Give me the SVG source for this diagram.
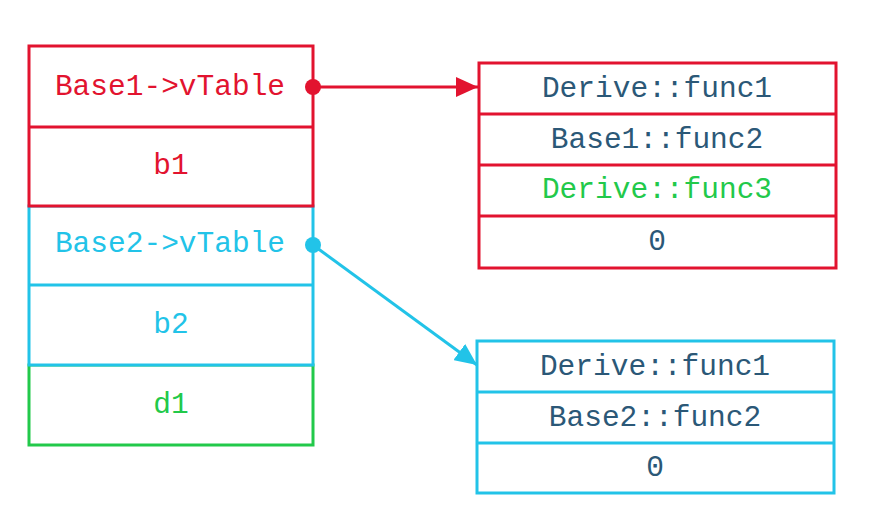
<svg xmlns="http://www.w3.org/2000/svg" width="871" height="527" viewBox="0 0 871 527">
<defs>
<style>
.t{font-family:"Liberation Mono","DejaVu Sans Mono",monospace;font-size:29.5px;text-anchor:middle;dominant-baseline:central}
.red{stroke:#e2132f}
.cyan{stroke:#22c3e8}
.green{stroke:#22c94a}
.box{fill:#fff;stroke-width:3}
.ln{stroke-width:3;fill:none}
</style>
<marker id="ahR" markerWidth="22" markerHeight="20" refX="22" refY="10" orient="auto" markerUnits="userSpaceOnUse" viewBox="0 0 22 20"><path d="M0,0 L22,10 L0,20 z" fill="#e2132f"/></marker>
<marker id="ahC" markerWidth="22" markerHeight="20" refX="22" refY="10" orient="auto" markerUnits="userSpaceOnUse" viewBox="0 0 22 20"><path d="M0,0 L22,10 L0,20 z" fill="#22c3e8"/></marker>
</defs>
<rect width="871" height="527" fill="#fff"/>
<g id="d1">
<rect class="box green" x="29" y="365" width="284" height="80"/>
<text class="t" x="171" y="405" fill="#22c94a">d1</text>
</g>
<g id="base2">
<rect class="box cyan" x="29" y="206" width="284" height="159"/>
<line class="ln cyan" x1="29" y1="285" x2="313" y2="285"/>
<text class="t" x="170" y="244" fill="#22c3e8">Base2-&gt;vTable</text>
<text class="t" x="171" y="325" fill="#22c3e8">b2</text>
</g>
<g id="base1">
<rect class="box red" x="29" y="46" width="284" height="160"/>
<line class="ln red" x1="29" y1="127" x2="313" y2="127"/>
<text class="t" x="170" y="87" fill="#e2132f">Base1-&gt;vTable</text>
<text class="t" x="171" y="166" fill="#e2132f">b1</text>
</g>
<g id="vtable1">
<rect class="box red" x="479" y="63" width="357" height="205"/>
<line class="ln red" x1="479" y1="114" x2="836" y2="114"/>
<line class="ln red" x1="479" y1="165" x2="836" y2="165"/>
<line class="ln red" x1="479" y1="216" x2="836" y2="216"/>
<text class="t" x="657" y="89" fill="#2b5877">Derive::func1</text>
<text class="t" x="657" y="140" fill="#2b5877">Base1::func2</text>
<text class="t" x="657" y="190" fill="#22c94a">Derive::func3</text>
<text class="t" x="657" y="242" fill="#2b5877">0</text>
</g>
<g id="vtable2">
<rect class="box cyan" x="477" y="341" width="357" height="152"/>
<line class="ln cyan" x1="477" y1="392" x2="834" y2="392"/>
<line class="ln cyan" x1="477" y1="443" x2="834" y2="443"/>
<text class="t" x="655" y="367" fill="#2b5877">Derive::func1</text>
<text class="t" x="655" y="418" fill="#2b5877">Base2::func2</text>
<text class="t" x="655" y="468" fill="#2b5877">0</text>
</g>
<g id="connectors">
<line class="ln red" x1="313" y1="87" x2="478" y2="87" marker-end="url(#ahR)"/>
<circle cx="313" cy="87" r="8" fill="#e2132f"/>
<line class="ln cyan" x1="313" y1="245" x2="477" y2="365" marker-end="url(#ahC)"/>
<circle cx="313" cy="245" r="8" fill="#22c3e8"/>
</g>
</svg>
